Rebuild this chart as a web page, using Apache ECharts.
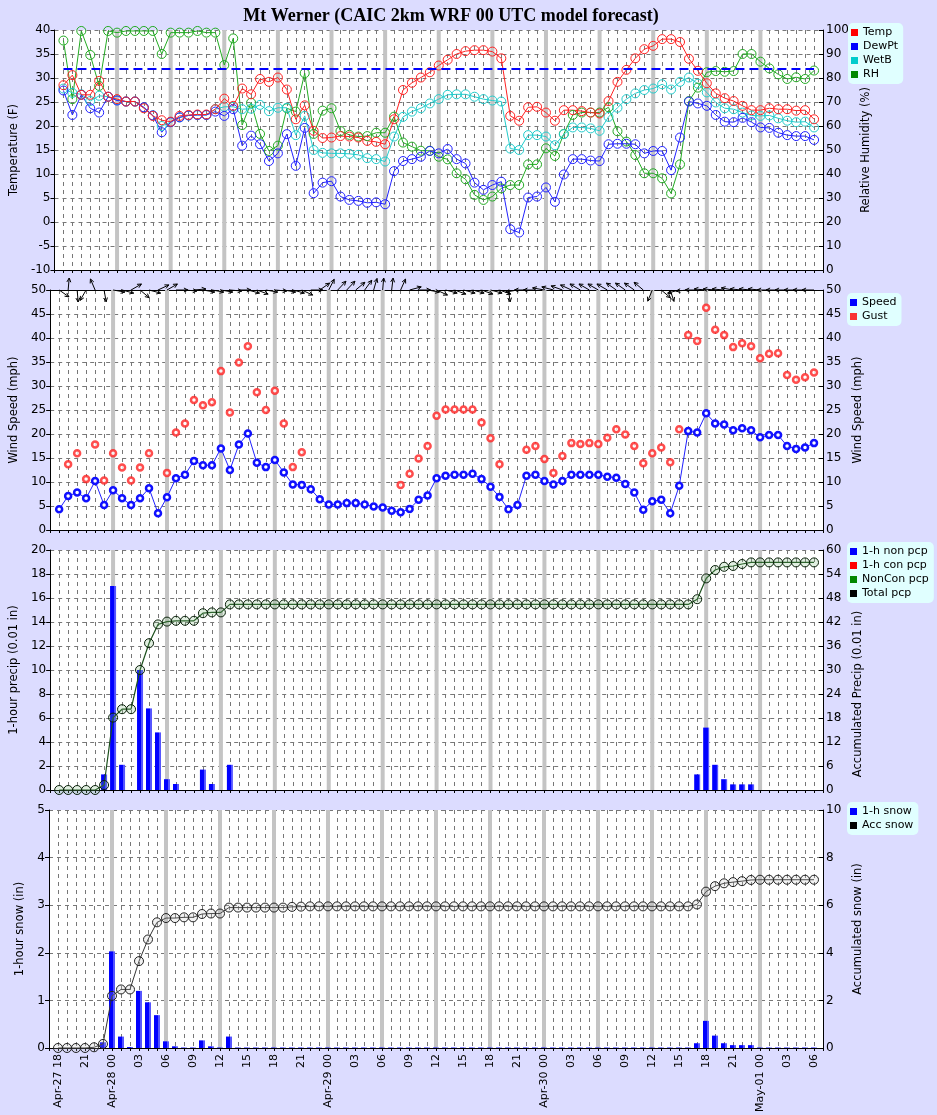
<!DOCTYPE html>
<html><head><meta charset="utf-8">
<script src="https://cdn.jsdelivr.net/npm/echarts/dist/echarts.min.js"></script>
<style>html,body{margin:0;padding:0;background:#dcdcff;}#c{width:937px;height:1115px;}</style>
</head><body><div id="c"></div>
<script>
// x tick labels every 3 hours (index 0 = Apr-27 18 UTC, hourly to May-01 06)
const tickLabels = ['Apr-27 18','21','Apr-28 00','03','06','09','12','15','18','21','Apr-29 00','03','06','09','12','15','18','21','Apr-30 00','03','06','09','12','15','18','21','May-01 00','03','06'];

const temp = [28.5,30.6,26.5,26.5,29.4,26.1,25.6,25.1,25.1,23.7,
22.1,21.2,20.9,22.1,22.3,22.4,22.4,23.5,25.7,24.2,
27.8,26.6,29.8,29.2,30.1,27.6,21.4,24.3,19.0,17.5,
17.6,17.9,17.8,17.6,16.9,16.7,16.2,21.4,27.5,29.0,
30.1,31.2,32.6,33.8,35.0,35.6,35.8,35.8,35.5,34.1,
22.1,21.1,23.9,24.0,22.8,21.1,23.3,23.3,23.1,22.8,
22.6,25.2,29.2,31.7,34.1,36.0,36.7,38.1,38.1,37.5,
34.0,31.5,28.9,26.8,25.8,25.2,24.2,23.3,23.3,23.7,
23.5,23.5,23.2,23.3,21.4];
const dewPt = [27.4,22.3,26.5,23.7,22.8,26.1,25.3,25.1,25.1,23.9,
22.2,18.7,20.8,21.8,22.2,22.3,22.3,23.0,22.1,23.5,
15.9,18.0,16.2,12.7,14.3,18.3,11.7,19.6,6.0,8.2,
8.5,5.3,4.6,4.4,4.0,4.1,3.7,10.6,12.7,13.1,
13.6,14.8,14.3,15.2,13.1,12.2,8.2,6.7,7.7,8.4,
-1.5,-2.2,5.1,5.3,7.2,4.2,9.9,13.1,13.1,12.8,
12.7,16.2,16.3,16.3,16.2,14.3,14.8,14.8,10.8,17.6,
25.1,24.7,24.2,22.3,20.9,20.8,21.7,20.8,19.7,19.6,
18.6,18.1,17.9,17.9,17.1];
const wetB = [27.8,26.9,26.6,25.2,26.3,26.1,25.4,25.1,25.1,23.8,
22.2,20.0,20.8,21.8,22.2,22.3,22.3,23.5,24.0,24.0,
23.5,23.6,24.4,23.1,23.8,23.8,18.1,22.1,15.0,14.4,
14.3,14.3,14.2,14.0,13.3,13.1,12.6,17.8,21.9,23.0,
23.7,24.7,25.6,26.5,26.6,26.6,26.1,25.6,25.3,25.1,
15.3,15.0,18.1,18.1,17.8,16.0,18.3,19.7,19.7,19.5,
19.0,21.9,23.8,25.6,26.8,27.5,27.8,28.7,27.6,29.2,
30.1,28.8,27.0,24.9,23.7,23.5,22.8,22.2,22.1,22.2,
21.6,21.1,20.8,20.9,19.7];
const rh = [95.6,71.2,99.6,89.6,76.7,99.6,98.9,99.6,99.6,99.6,
99.6,90.0,98.9,98.9,98.9,99.6,98.9,98.9,85.4,96.5,
60.4,69.7,56.7,49.6,51.8,67.4,66.0,82.0,56.7,66.4,
67.4,57.9,56.3,55.6,55.8,57.2,57.2,63.9,53.1,51.4,
49.7,49.7,47.2,46.1,40.3,37.8,31.3,29.2,30.6,34.0,
35.4,35.4,44.0,44.0,50.7,47.5,56.7,64.6,65.6,65.6,
65.6,67.8,57.8,53.5,47.9,40.3,40.3,38.2,31.9,44.0,
70.4,76.0,82.4,82.9,82.6,82.9,90.0,90.0,86.8,84.0,
81.5,79.6,80.3,79.6,83.1];
const freezing = 32;

const speed = [4.3,7.1,7.8,6.6,10.2,5.2,8.3,6.6,5.2,6.6,
8.7,3.5,6.8,10.8,11.5,14.4,13.5,13.5,17.0,12.5,
17.8,20.1,14.0,13.1,14.6,12.0,9.5,9.4,8.5,6.4,
5.3,5.3,5.6,5.6,5.3,4.9,4.7,4.0,3.7,4.4,
6.3,7.2,10.8,11.3,11.5,11.5,11.7,10.6,9.0,6.9,
4.3,5.2,11.3,11.5,10.2,9.5,10.2,11.5,11.5,11.5,
11.5,11.1,10.9,9.6,7.8,4.2,6.0,6.3,3.5,9.2,
20.6,20.3,24.3,22.2,22.0,20.8,21.2,20.8,19.3,19.8,
19.8,17.5,16.9,17.2,18.1];
const gust = [null,13.7,16.0,10.6,17.8,10.3,16.0,13.0,10.3,13.0,
16.0,null,11.9,20.3,22.2,27.1,26.0,26.6,33.1,24.5,
34.9,38.3,28.7,25.0,29.0,22.2,13.1,16.2,null,null,
null,null,null,null,null,null,null,null,9.4,11.7,
14.9,17.5,23.8,25.1,25.1,25.1,25.1,22.4,19.1,13.7,
null,null,16.7,17.5,14.8,11.9,15.4,18.1,17.9,18.1,
17.9,19.2,21.0,19.9,17.5,13.9,16.0,17.2,14.1,21.0,
40.6,39.4,46.3,41.7,40.6,38.1,38.9,38.3,35.8,36.7,
36.8,32.3,31.3,31.8,32.8];
// wind direction (degrees, direction the wind blows FROM)
const windDir = [305,185,355,30,157,350,280,285,240,310,
285,245,240,270,275,265,280,280,280,275,
270,285,290,280,275,280,285,295,270,235,
207,223,223,230,216,196,185,187,204,255,
270,280,295,285,290,285,285,290,285,290,
352,80,90,90,100,105,110,115,120,120,
120,120,125,125,125,130,22,310,342,75,
85,90,95,95,95,100,95,95,95,90,
90,90,90,90,90];

const pcpNonCon1h = [0,0,0,0,0,1.3,17.0,2.1,0,10.0,
6.8,4.8,0.9,0.5,0,0,1.7,0.5,0,2.1,
0,0,0,0,0,0,0,0,0,0,
0,0,0,0,0,0,0,0,0,0,
0,0,0,0,0,0,0,0,0,0,
0,0,0,0,0,0,0,0,0,0,
0,0,0,0,0,0,0,0,0,0,
0,1.3,5.2,2.1,0.9,0.47,0.47,0.47,0,0,
0,0,0,0,0];
const accPcp = [0,0,0,0,0,1.25,18.1,20.2,20.2,30.0,
36.7,41.4,42.1,42.3,42.3,42.3,44.2,44.4,44.4,46.4,
46.4,46.4,46.4,46.4,46.4,46.4,46.4,46.4,46.4,46.4,
46.4,46.4,46.4,46.4,46.4,46.4,46.4,46.4,46.4,46.4,
46.4,46.4,46.4,46.4,46.4,46.4,46.4,46.4,46.4,46.4,
46.4,46.4,46.4,46.4,46.4,46.4,46.4,46.4,46.4,46.4,
46.4,46.4,46.4,46.4,46.4,46.4,46.4,46.4,46.4,46.4,
46.4,47.7,52.9,55.0,55.8,56.0,56.5,56.9,56.9,56.9,
56.9,56.9,56.9,56.9,56.9];

const snow1h = [0,0,0,0,0,0.12,2.03,0.24,0.02,1.2,
0.96,0.69,0.14,0.035,0.01,0.01,0.16,0.035,0.01,0.24,
0.01,0.01,0.01,0.01,0.01,0.01,0.01,0.01,0.01,0.01,
0.01,0.01,0.01,0.01,0.01,0.01,0.01,0.01,0.01,0.01,
0.01,0.01,0.01,0.01,0.01,0.01,0.01,0.01,0.01,0.01,
0.01,0.01,0.01,0.01,0.01,0.01,0.01,0.01,0.01,0.01,
0.01,0.01,0.01,0.01,0.01,0.01,0.01,0.01,0.01,0.01,
0.01,0.10,0.57,0.26,0.10,0.06,0.06,0.06,0.01,0.01,
0.01,0.01,0.01,0.01,0.01];
const accSnow = [0,0,0,0,0.03,0.17,2.19,2.46,2.46,3.65,
4.56,5.28,5.46,5.46,5.49,5.49,5.63,5.65,5.65,5.90,
5.90,5.90,5.90,5.90,5.90,5.90,5.93,5.94,5.95,5.95,
5.95,5.95,5.95,5.95,5.95,5.95,5.95,5.95,5.95,5.95,
5.95,5.95,5.95,5.95,5.95,5.95,5.95,5.95,5.95,5.95,
5.95,5.95,5.95,5.95,5.95,5.95,5.95,5.95,5.95,5.95,
5.95,5.95,5.95,5.95,5.95,5.95,5.95,5.95,5.95,5.95,
5.95,6.03,6.57,6.80,6.92,6.97,7.01,7.06,7.07,7.07,
7.07,7.07,7.07,7.07,7.07];

const sixHourly = [6,12,18,24,30,36,42,48,54,60,66,72,78];

// ---------------------------------------------------------------
const FONT = 'DejaVu Sans';
const pts = arr => arr.map((v, i) => [i, v]);
const tops = [30, 290, 550, 810];

function xAx(k) {
  return {
    type: 'value', gridIndex: k, min: -1, max: 85, interval: 1,
    axisLine: {show: true, onZero: false, lineStyle: {color: '#000', width: 1}},
    axisTick: {show: true, length: 3, lineStyle: {color: '#000'}},
    axisLabel: {
      show: k === 3, rotate: 90, fontFamily: FONT, fontSize: 11, color: '#000', margin: 6,
      formatter: v => (v >= 0 && v <= 84 && v % 3 === 0) ? tickLabels[v / 3] : ''
    },
    splitLine: {show: true, lineStyle: {color: '#777', type: [4, 4], width: 1}}
  };
}
function yAx(k, side, min, max, interval, name, gap, shift) {
  return {
    type: 'value', gridIndex: k, position: side, min: min, max: max, interval: interval,
    name: name, nameLocation: 'middle', nameGap: gap,
    nameTextStyle: {fontFamily: FONT, fontSize: 11.5, color: '#000', padding: shift ? [0, shift, 0, 0] : 0},
    axisLine: {show: true, onZero: false, lineStyle: {color: '#000'}},
    axisTick: {show: true, inside: side === 'right', length: 4, lineStyle: {color: '#000'}},
    axisLabel: {fontFamily: FONT, fontSize: 12, color: '#000', margin: side === 'right' ? 3 : 4},
    splitLine: {show: side === 'left', lineStyle: {color: '#777', type: [4, 4], width: 1}}
  };
}
function greyLines(k) {
  return {
    type: 'custom', xAxisIndex: k, yAxisIndex: 2 * k, z: 1, silent: true,
    data: sixHourly.map(v => [v]),
    renderItem: function (params, api) {
      const cs = params.coordSys;
      const x = api.coord([api.value(0), 0])[0];
      return {type: 'rect', shape: {x: x - 2, y: cs.y, width: 4, height: cs.height}, style: {fill: '#c4c4c4'}};
    }
  };
}
function thinLine(name, data, color, yIdx) {
  return {
    name: name, type: 'line', xAxisIndex: 0, yAxisIndex: yIdx, data: pts(data), z: 3,
    symbol: 'circle', symbolSize: 9,
    itemStyle: {color: 'rgba(255,255,255,0)', borderColor: color, borderWidth: 1},
    lineStyle: {color: color, width: 1}, emphasis: {disabled: true}
  };
}

const legendBase = {
  orient: 'vertical', icon: 'rect', itemWidth: 7, itemHeight: 7, itemGap: 1, selectedMode: false,
  backgroundColor: '#e0ffff', borderRadius: 5, padding: [3, 5, 3, 3],
  textStyle: {fontFamily: FONT, fontSize: 11, color: '#000', lineHeight: 13}
};
const L = (name, color) => ({name: name, itemStyle: {color: color, borderWidth: 0}});
const barFill = () => new echarts.graphic.LinearGradient(0, 0, 1, 0, [
  {offset: 0, color: '#0000ff'}, {offset: 0.72, color: '#0000ff'}, {offset: 0.74, color: '#5555ff'}, {offset: 1, color: '#5555ff'}]);

const option = {
  animation: false,
  backgroundColor: '#dcdcff',
  title: {
    text: 'Mt Werner (CAIC 2km WRF 00 UTC model forecast)', left: 446, top: 2, textAlign: 'center',
    textStyle: {fontFamily: 'Liberation Serif', fontWeight: 'bold', fontSize: 18, color: '#000'}
  },
  grid: tops.map(t => ({left: 49, right: 114, top: t, height: 240, backgroundColor: '#fff', show: true, borderWidth: 0})),
  legend: [
    Object.assign({}, legendBase, {left: 848, top: 23, data: [L('Temp', '#ff0000'), L('DewPt', '#0000ff'), L('WetB', '#00cccc'), L('RH', '#008800')]}),
    Object.assign({}, legendBase, {left: 847, top: 293, data: [L('Speed', '#0000ff'), L('Gust', '#ff0000')]}),
    Object.assign({}, legendBase, {left: 847, top: 542, data: [L('1-h non pcp', '#0000ff'), L('1-h con pcp', '#ff0000'), L('NonCon pcp', '#008800'), L('Total pcp', '#000000')]}),
    Object.assign({}, legendBase, {left: 847, top: 802, data: [L('1-h snow', '#0000ff'), L('Acc snow', '#000000')]})
  ],
  xAxis: [xAx(0), xAx(1), xAx(2), xAx(3), {
    type: 'value', gridIndex: 1, position: 'top', min: -1, max: 85,
    axisLine: {show: true, onZero: false, lineStyle: {color: '#000'}},
    axisTick: {show: false}, axisLabel: {show: false}, splitLine: {show: false}
  }],
  yAxis: [
    yAx(0, 'left', -10, 40, 5, 'Temperature (F)', 22),
    yAx(0, 'right', 0, 100, 10, 'Relative Humidity (%)', 27),
    yAx(1, 'left', 0, 50, 5, 'Wind Speed (mph)', 17),
    yAx(1, 'right', 0, 50, 5, 'Wind Speed (mph)', 23),
    yAx(2, 'left', 0, 20, 2, '1-hour precip (0.01 in)', 17),
    yAx(2, 'right', 0, 60, 6, 'Accumulated Precip (0.01 in)', 23, 48),
    yAx(3, 'left', 0, 5, 1, '1-hour snow (in)', 12),
    yAx(3, 'right', 0, 10, 2, 'Accumulated snow (in)', 20)
  ],
  series: [
    greyLines(0), greyLines(1), greyLines(2), greyLines(3),
    // panel 1
    thinLine('RH', rh, '#22aa22', 1),
    thinLine('WetB', wetB, '#22cccc', 0),
    thinLine('DewPt', dewPt, '#2222ff', 0),
    Object.assign(thinLine('Temp', temp, '#ff2222', 0), {
      markLine: {
        silent: true, symbol: 'none', label: {show: false},
        lineStyle: {color: '#0000ff', width: 2, type: [9, 5]},
        data: [[{coord: [0, freezing]}, {coord: [84, freezing]}]]
      }
    }),
    // panel 2
    {
      name: 'Speed', type: 'line', xAxisIndex: 1, yAxisIndex: 2, data: pts(speed), z: 3,
      symbol: 'circle', symbolSize: 6,
      itemStyle: {color: '#ffffff', borderColor: '#1010ff', borderWidth: 2.5},
      lineStyle: {color: '#2020ff', width: 1}, emphasis: {disabled: true}
    },
    {
      name: 'Gust', type: 'scatter', xAxisIndex: 1, yAxisIndex: 2, data: pts(gust), z: 3,
      symbol: 'circle', symbolSize: 6,
      itemStyle: {color: '#ffffff', borderColor: '#ff2020', borderWidth: 2.5}, emphasis: {disabled: true}
    },
    {
      type: 'custom', xAxisIndex: 1, yAxisIndex: 2, clip: false, silent: true, z: 5,
      data: windDir.map((d, i) => [i, d]),
      renderItem: function (params, api) {
        const p = api.coord([api.value(0), 50]);
        const a = (-90 - api.value(1)) * Math.PI / 180;
        const len = 12, h = 4.5;
        const tx = p[0] + len * Math.cos(a), ty = p[1] - len * Math.sin(a);
        const b1 = a + Math.PI - 0.45, b2 = a + Math.PI + 0.45;
        return {
          type: 'group', children: [
            {type: 'line', shape: {x1: p[0], y1: p[1], x2: tx, y2: ty}, style: {stroke: '#000', lineWidth: 1}},
            {type: 'polyline', shape: {points: [[tx + h * Math.cos(b1), ty - h * Math.sin(b1)], [tx, ty], [tx + h * Math.cos(b2), ty - h * Math.sin(b2)]]},
             style: {stroke: '#000', fill: null, lineWidth: 1}}
          ]
        };
      }
    },
    // panel 3
    {
      name: '1-h non pcp', type: 'bar', xAxisIndex: 2, yAxisIndex: 4, data: pts(pcpNonCon1h), barWidth: 6, z: 2,
      itemStyle: {color: barFill()}
    },
    {name: '1-h con pcp', type: 'line', xAxisIndex: 2, yAxisIndex: 4, data: [], itemStyle: {color: '#ff0000'}},
    {
      name: 'NonCon pcp', type: 'line', xAxisIndex: 2, yAxisIndex: 5, data: pts(accPcp), z: 3,
      showSymbol: false, symbol: 'none', itemStyle: {color: '#008800'},
      lineStyle: {color: '#1c501c', width: 1.2}, emphasis: {disabled: true}
    },
    {
      name: 'Total pcp', type: 'line', xAxisIndex: 2, yAxisIndex: 5, data: pts(accPcp), z: 4,
      symbol: 'circle', symbolSize: 9, lineStyle: {width: 0, opacity: 0},
      itemStyle: {color: 'rgba(120,180,120,0.22)', borderColor: '#0a200a', borderWidth: 1}, emphasis: {disabled: true}
    },
    // panel 4
    {
      name: '1-h snow', type: 'bar', xAxisIndex: 3, yAxisIndex: 6, data: pts(snow1h), barWidth: 6, z: 2,
      itemStyle: {color: barFill()}
    },
    {
      name: 'Acc snow', type: 'line', xAxisIndex: 3, yAxisIndex: 7, data: pts(accSnow), z: 3,
      symbol: 'circle', symbolSize: 9,
      itemStyle: {color: 'rgba(190,190,190,0.2)', borderColor: '#222', borderWidth: 1},
      lineStyle: {color: '#333', width: 1}, emphasis: {disabled: true}
    }
  ]
};
const chart = echarts.init(document.getElementById('c'), null, {renderer: 'canvas'});
chart.setOption(option);
</script></body></html>
